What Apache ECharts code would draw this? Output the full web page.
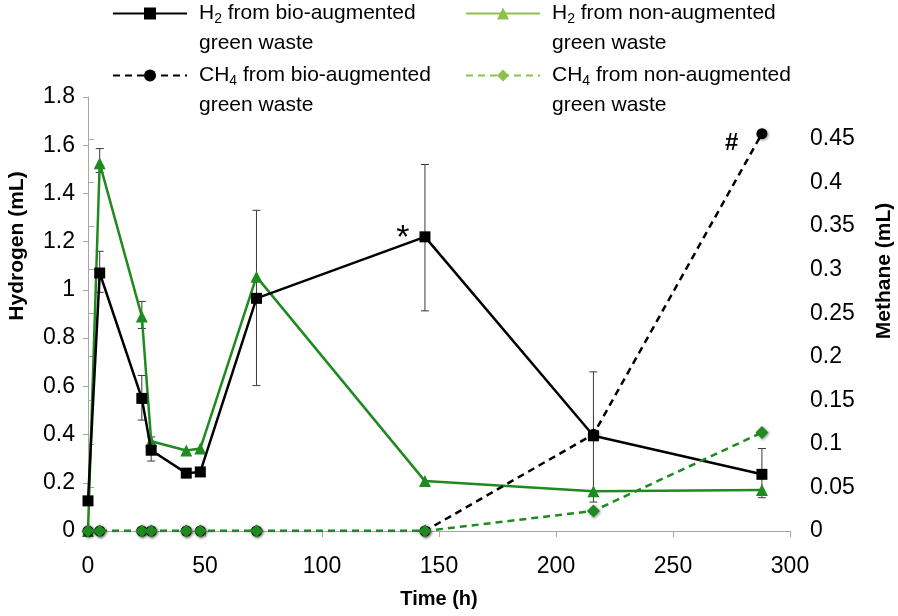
<!DOCTYPE html>
<html>
<head>
<meta charset="utf-8">
<script src="https://cdn.jsdelivr.net/npm/echarts@6/dist/echarts.min.js"></script>
<style>
html,body{margin:0;padding:0;background:#fff;}
#c{width:898px;height:616px;}
</style>
</head>
<body>
<div id="c"></div>
<script>
// ---- data ----
const timeH = [0, 5, 23, 27, 42, 48, 72, 144, 216, 288];
const h2Bio = [0.125, 1.07, 0.55, 0.335, 0.24, 0.245, 0.965, 1.22, 0.395, 0.235];
const h2BioLow = [null, 0.99, 0.46, 0.29, null, null, 0.603, 0.913, 0.12, 0.138];
const h2BioHigh = [null, 1.16, 0.645, 0.39, null, null, 1.33, 1.52, 0.66, 0.342];
const h2Non = [0, 1.525, 0.89, 0.372, 0.334, 0.342, 1.055, 0.207, 0.165, 0.17];
const h2NonLow = [null, 1.487, 0.84, null, null, null, null, null, null, null];
const h2NonHigh = [null, 1.586, 0.952, null, null, null, null, null, null, null];
const ch4Bio = [0, 0, 0, 0, 0, 0, 0, 0, 0.111, 0.456];
const ch4Non = [0, 0, 0, 0, 0, 0, 0, 0, 0.023, 0.113];
const leftTicks = [0, 0.2, 0.4, 0.6, 0.8, 1, 1.2, 1.4, 1.6, 1.8];
const rightTicks = [0, 0.05, 0.1, 0.15, 0.2, 0.25, 0.3, 0.35, 0.4, 0.45];
const xTicks = [0, 50, 100, 150, 200, 250, 300];
const names = ['H2 bio', 'H2 non', 'CH4 bio', 'CH4 non'];
const legendText = [
  ['{a|H}{s|2}{a| from bio-augmented}', '{a|green waste}'],
  ['{a|H}{s|2}{a| from non-augmented}', '{a|green waste}'],
  ['{a|CH}{s|4}{a| from bio-augmented}', '{a|green waste}'],
  ['{a|CH}{s|4}{a| from non-augmented}', '{a|green waste}']
];
const annotBio = '*';
const annotCh4 = '#';

// ---- styles ----
const FONT = 'Liberation Sans';
const BLACK = '#000000';
const GREEN = '#1f8a1f';
const LGREEN = '#8fbf4d';
const AXIS = '#a6a6a6';

const pairs = (ys) => timeH.map((x, i) => [x, ys[i]]);
const errs = (lo, hi) => timeH.map((x, i) => lo[i] == null ? null : [x, lo[i], hi[i]]).filter(Boolean);

function errRender(params, api) {
  const x = api.value(0), lo = api.value(1), hi = api.value(2);
  const p1 = api.coord([x, hi]), p2 = api.coord([x, lo]);
  const w = 4;
  const st = { stroke: '#3a3a3a', lineWidth: 1 };
  return {
    type: 'group',
    children: [
      { type: 'line', shape: { x1: p1[0], y1: p1[1], x2: p2[0], y2: p2[1] }, style: st },
      { type: 'line', shape: { x1: p1[0] - w, y1: p1[1], x2: p1[0] + w, y2: p1[1] }, style: st },
      { type: 'line', shape: { x1: p2[0] - w, y1: p2[1], x2: p2[0] + w, y2: p2[1] }, style: st }
    ]
  };
}

const rich = {
  a: { fontFamily: FONT, fontSize: 21, lineHeight: 30, color: '#000' },
  s: { fontFamily: FONT, fontSize: 14, lineHeight: 18, padding: [12, 0, 0, 0], color: '#000' },
  b: { fontFamily: FONT, fontSize: 21, lineHeight: 30, color: '#000' }
};

function mkLegend(i, left, top, lineColor, symColor) {
  return {
    data: [{ name: names[i], itemStyle: { color: symColor }, lineStyle: { color: lineColor } }],
    left: left, top: top, padding: 0,
    itemWidth: 74, itemHeight: 15,
    selectedMode: false,
    formatter: () => '{b| }\n' + legendText[i][0] + '\n' + legendText[i][1],
    textStyle: { rich: rich, padding: [0, 0, 0, 7] }
  };
}

const shadow = { shadowBlur: 3, shadowColor: 'rgba(0,0,0,0.45)', shadowOffsetX: 1, shadowOffsetY: 1 };

const option = {
  animation: false,
  backgroundColor: '#fff',
  textStyle: { fontFamily: FONT },
  grid: [
    { left: 88, right: 108, top: 97, bottom: 85 },
    { left: 88, right: 108, top: 128, bottom: 85 }
  ],
  legend: [
    mkLegend(0, 112, 14 - 45 + 4, BLACK, BLACK),
    mkLegend(1, 465, 14 - 45 + 4, LGREEN, LGREEN),
    mkLegend(2, 112, 76 - 45 + 4, BLACK, BLACK),
    mkLegend(3, 465, 76 - 45 + 4, LGREEN, LGREEN)
  ],
  xAxis: [
    {
      gridIndex: 0, type: 'value', min: 0, max: 300, interval: 50,
      name: 'Time (h)', nameLocation: 'middle', nameGap: 58,
      nameTextStyle: { fontFamily: FONT, fontSize: 20, fontWeight: 'bold', color: '#000' },
      axisLine: { show: true, lineStyle: { color: AXIS, width: 1 } },
      axisTick: { show: true, length: 6, lineStyle: { color: AXIS }, customValues: xTicks },
      axisLabel: { fontFamily: FONT, fontSize: 23, color: '#000', margin: 24, customValues: xTicks },
      splitLine: { show: false }
    },
    {
      gridIndex: 1, type: 'value', min: 0, max: 300, show: false, splitLine: { show: false }
    }
  ],
  yAxis: [
    {
      gridIndex: 0, type: 'value', min: 0, max: 1.8, interval: 0.2, position: 'left',
      axisLine: { show: true, lineStyle: { color: AXIS, width: 1 } },
      axisTick: { show: true, length: 5, lineStyle: { color: AXIS }, customValues: leftTicks },
      axisLabel: { fontFamily: FONT, fontSize: 23, color: '#000', margin: 13, customValues: leftTicks },
      splitLine: { show: false }
    },
    {
      gridIndex: 1, type: 'value', min: 0, max: 0.4625, position: 'right',
      axisLine: { show: true, lineStyle: { color: AXIS, width: 1 } },
      axisTick: { show: true, length: 6, lineStyle: { color: AXIS }, customValues: rightTicks },
      axisLabel: { fontFamily: FONT, fontSize: 23, color: '#000', margin: 20, customValues: rightTicks },
      splitLine: { show: false }
    }
  ],
  graphic: [
    {
      type: 'text', x: 17, y: 246, rotation: Math.PI / 2,
      style: { text: 'Hydrogen (mL)', fontFamily: FONT, fontSize: 21, fontWeight: 'bold', fill: '#000', align: 'center', verticalAlign: 'middle' }
    },
    {
      type: 'text', x: 884, y: 271, rotation: Math.PI / 2,
      style: { text: 'Methane (mL)', fontFamily: FONT, fontSize: 21, fontWeight: 'bold', fill: '#000', align: 'center', verticalAlign: 'middle' }
    }
  ],
  series: [
    {
      type: 'custom', xAxisIndex: 0, yAxisIndex: 0, z: 1,
      renderItem: errRender, data: errs(h2BioLow, h2BioHigh), silent: true
    },
    {
      type: 'custom', xAxisIndex: 0, yAxisIndex: 0, z: 1,
      renderItem: errRender, data: errs(h2NonLow, h2NonHigh), silent: true
    },
    {
      name: names[0], type: 'line', xAxisIndex: 0, yAxisIndex: 0, z: 3,
      data: pairs(h2Bio).map((p, i) => i === 7 ? {
        value: p,
        label: { show: true, formatter: annotBio, position: 'left', distance: 10, offset: [0, 2], fontSize: 34, color: '#000', fontFamily: FONT }
      } : p),
      symbol: 'rect', symbolSize: 11,
      lineStyle: { color: BLACK, width: 2.5 },
      itemStyle: { color: BLACK }
    },
    {
      name: names[1], type: 'line', xAxisIndex: 0, yAxisIndex: 0, z: 2,
      data: pairs(h2Non),
      symbol: 'triangle', symbolSize: 12,
      lineStyle: { color: GREEN, width: 2.5 },
      itemStyle: { color: GREEN }
    },
    {
      name: names[2], type: 'line', xAxisIndex: 1, yAxisIndex: 1, z: 3,
      data: pairs(ch4Bio).map((p, i) => i === 9 ? {
        value: p,
        label: { show: true, formatter: annotCh4, position: 'left', distance: 18, offset: [0, 10], fontSize: 24, fontWeight: 'bold', color: '#000', fontFamily: FONT }
      } : p),
      symbol: 'circle', symbolSize: 11,
      lineStyle: { color: BLACK, width: 2.5, type: [7, 5] },
      itemStyle: Object.assign({ color: BLACK }, shadow)
    },
    {
      name: names[3], type: 'line', xAxisIndex: 1, yAxisIndex: 1, z: 4,
      data: pairs(ch4Non),
      symbol: 'diamond', symbolSize: 13,
      lineStyle: { color: GREEN, width: 2.5, type: [7, 5] },
      itemStyle: Object.assign({ color: GREEN }, shadow)
    }
  ]
};

const chart = echarts.init(document.getElementById('c'), null, { renderer: 'canvas' });
chart.setOption(option);
</script>
</body>
</html>
